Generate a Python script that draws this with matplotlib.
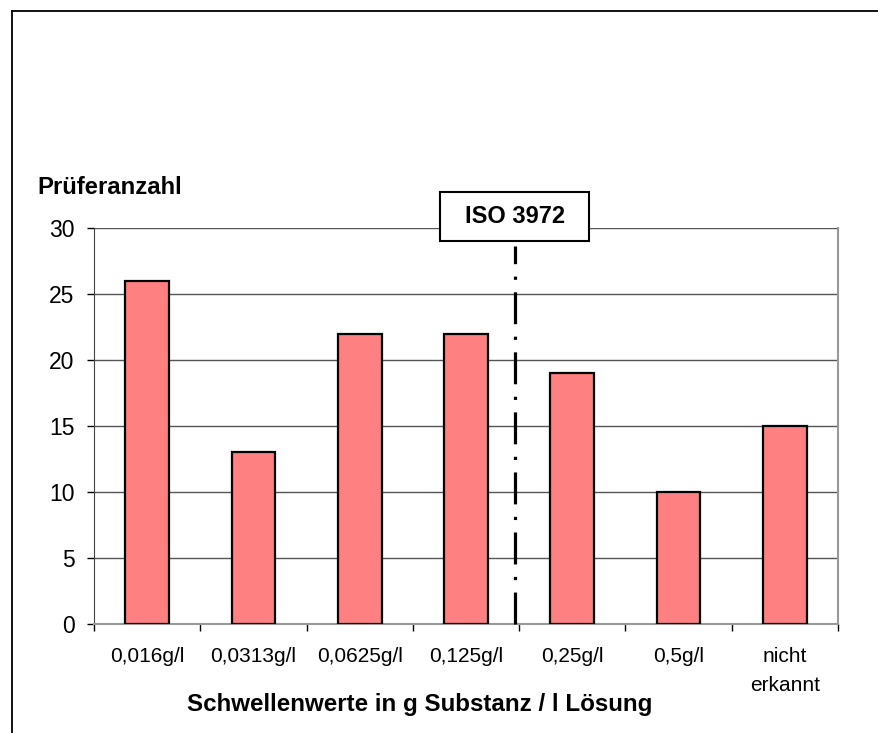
import matplotlib
matplotlib.use("Agg")
import matplotlib.pyplot as plt
from matplotlib.patches import Rectangle
from matplotlib.lines import Line2D
import numpy as np

plt.rcParams['font.family'] = ['Liberation Sans', 'DejaVu Sans']

categories = ['0,016g/l', '0,0313g/l', '0,0625g/l', '0,125g/l', '0,25g/l', '0,5g/l', 'nicht\nerkannt']
counts = [26, 13, 22, 22, 19, 10, 15]
iso_label = 'ISO 3972'
iso_pos = 3.46   # between 0,125g/l and 0,25g/l
iso_top = 28.6

W, H = 879, 733
fig = plt.figure(figsize=(W / 100, H / 100), dpi=100)
ax = fig.add_axes([94 / W, (H - 624) / H, (838 - 94) / W, (624 - 228) / H])

x = np.arange(len(categories))
ax.bar(x, counts, width=0.41, color='#FF8080', edgecolor='black', linewidth=1.6, zorder=3)

ax.set_xlim(-0.5, len(categories) - 0.5)
ax.set_ylim(0, 30)
ax.set_yticks(np.arange(0, 31, 5))
ax.yaxis.grid(True, color='#555555', linewidth=1.0, zorder=0)
ax.tick_params(axis='y', labelsize=16.5, length=5, width=1, pad=9, colors='black')

# boundaries as major ticks, labels on minor ticks
ax.set_xticks(np.arange(-0.5, len(categories), 1.0))
ax.set_xticklabels([])
ax.set_xticks(x, minor=True)
ax.set_xticklabels(categories, minor=True, fontsize=15, linespacing=1.68)
ax.tick_params(axis='x', which='major', length=5, width=1, direction='out')
ax.tick_params(axis='x', which='minor', length=0, pad=16.5)

ax.spines['top'].set_visible(False)
ax.spines['right'].set_color('#999999')
ax.spines['right'].set_linewidth(1.5)
ax.spines['left'].set_color('#444444')
ax.spines['bottom'].set_color('#999999')
ax.spines['bottom'].set_linewidth(1.5)

# ISO 3972 marker line
ax.plot([iso_pos, iso_pos], [0, iso_top], color='black', linewidth=2.3,
        linestyle=(0, (10, 3.9, 1, 3.9)), dash_capstyle='butt', zorder=4, clip_on=False)
ax.add_patch(Rectangle((iso_pos - 0.70, 29.0), 1.40, 3.71, facecolor='white',
                       edgecolor='black', linewidth=1.5, clip_on=False, zorder=5))
ax.text(iso_pos, 29.0 + 3.71 / 2, iso_label, ha='center', va='center',
        fontsize=17, fontweight='bold', zorder=6)

fig.text(37 / W, 1 - 188 / H, 'Prüferanzahl', fontsize=17.2, fontweight='bold',
         ha='left', va='center')
fig.text(420 / W, 1 - 705 / H, 'Schwellenwerte in g Substanz / l Lösung', fontsize=17.4,
         fontweight='bold', ha='center', va='center')

# outer frame (top and left edge)
fig.add_artist(Line2D([12 / W, 1], [1 - 11 / H, 1 - 11 / H], color='black', linewidth=1.3))
fig.add_artist(Line2D([12 / W, 12 / W], [0, 1 - 11 / H], color='black', linewidth=1.3))

fig.savefig('out.png', dpi=100)
